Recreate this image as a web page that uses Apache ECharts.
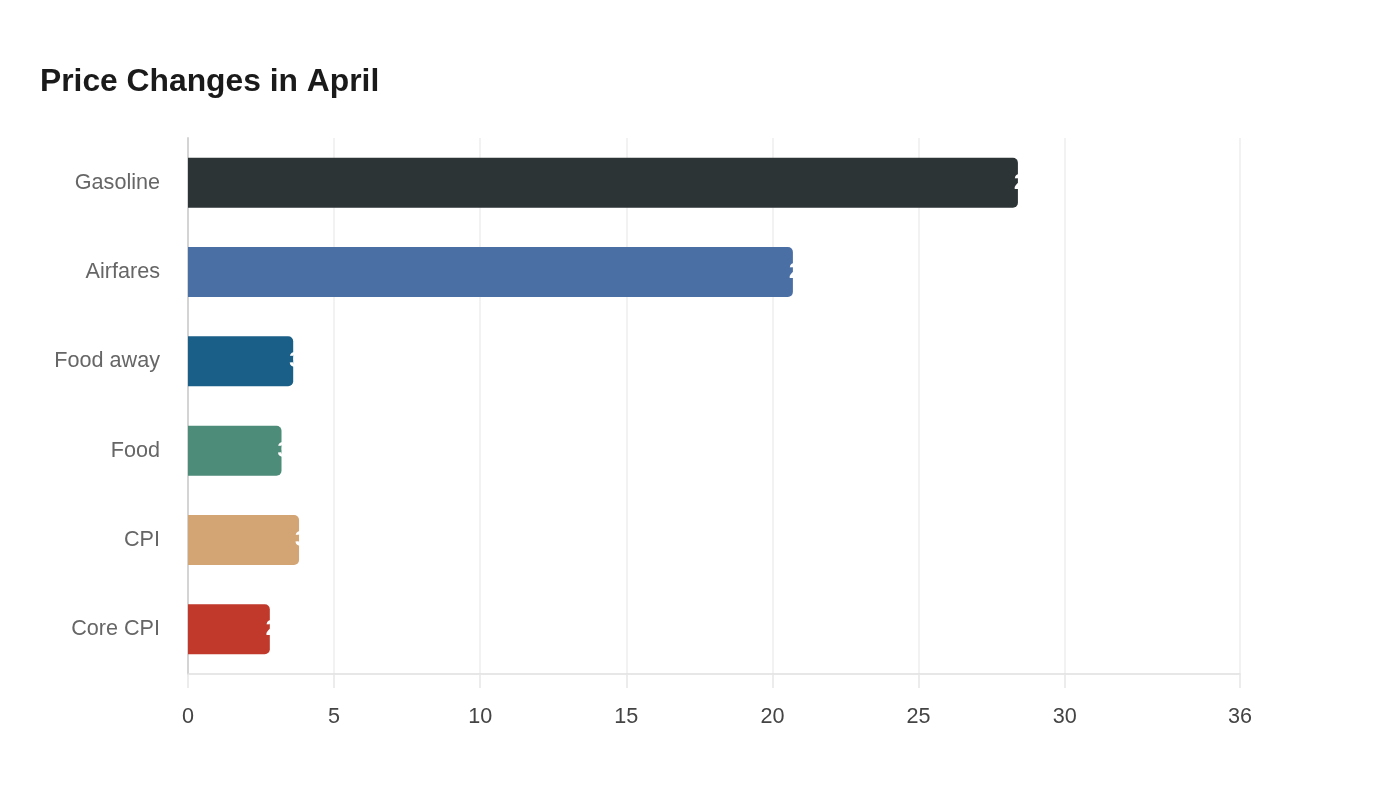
<!DOCTYPE html>
<html><head><meta charset="utf-8">
<script src="https://cdn.jsdelivr.net/npm/echarts@6/dist/echarts.min.js"></script>
<style>html,body{margin:0;padding:0;background:#fff}#c{width:1400px;height:800px}</style>
</head><body><div id="c"></div>
<script>
const categories = ["Gasoline", "Airfares", "Food away", "Food", "CPI", "Core CPI"];
const values = [28.4, 20.7, 3.6, 3.2, 3.8, 2.8];
const colors = ["#2d3436", "#4a6fa5", "#1a5f87", "#4e8c7a", "#d4a574", "#c0392b"];
const tickValues = [0, 5, 10, 15, 20, 25, 30, 36];
const chart = echarts.init(document.getElementById('c'));
chart.setOption({
  animation: false,
  title: { text: "Price Changes in April", left: 35, top: 61,
    textStyle: { fontFamily: "Liberation Sans", fontSize: 31.8, fontWeight: "bold", color: "#1a1a1a" } },
  grid: { left: 188, right: 160, top: 138, bottom: 126 },
  xAxis: { type: "value", min: 0, max: 36,
    axisLine: { show: true, lineStyle: { color: "#e0e0e0", width: 1.5 } },
    axisTick: { show: true, length: 14, customValues: tickValues, lineStyle: { color: "#e6e6e6", width: 1.5 } },
    axisLabel: { fontFamily: "Liberation Sans", fontSize: 21.6, color: "#444", margin: 32, customValues: tickValues },
    splitLine: { show: true, lineStyle: { color: "#eeeeee", width: 1.5 } } },
  yAxis: { type: "category", data: categories, inverse: true,
    axisLine: { show: true, lineStyle: { color: "#d4d4d4", width: 2 } },
    axisTick: { show: false },
    axisLabel: { fontFamily: "Liberation Sans", fontSize: 21.6, color: "#666", margin: 28 } },
  series: [{ type: "bar", barWidth: 50,
    data: values.map((v, i) => ({ value: v, itemStyle: { color: colors[i] } })),
    itemStyle: { borderRadius: [0, 5, 5, 0] },
    label: { show: true, position: "right", distance: -4, color: "#fff",
      fontFamily: "Liberation Sans", fontSize: 21.6, fontWeight: "bold" } }]
});
</script></body></html>
